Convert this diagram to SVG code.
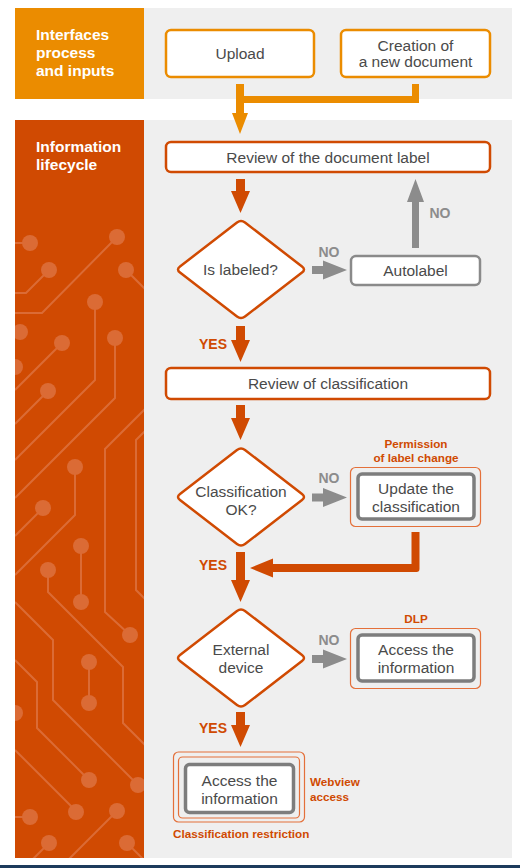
<svg xmlns="http://www.w3.org/2000/svg" width="520" height="868" viewBox="0 0 520 868">
<style>
text{font-family:"Liberation Sans",Arial,sans-serif}
.hd{font-size:15.5px;font-weight:bold;fill:#ffffff}
.tx{font-size:15.5px;fill:#4a4a4a;text-anchor:middle}
.lb{font-size:11.7px;font-weight:bold;fill:#d04a02}
.no{font-size:14px;font-weight:bold;fill:#8c8c8c;text-anchor:middle}
.yes{font-size:14px;font-weight:bold;fill:#d04a02;text-anchor:middle}
.box1{fill:#ffffff;stroke:#eb8c00;stroke-width:2.5}
.box2{fill:#ffffff;stroke:#d04a02;stroke-width:2.5}
.dia{fill:#ffffff;stroke:#d04a02;stroke-width:2.5;stroke-linejoin:round}
.gbox{fill:#ffffff;stroke:#8a8a8a;stroke-width:2.5}
.gbox2{fill:#ffffff;stroke:#7d7d7d;stroke-width:3.5}
.obox{fill:none;stroke:#e4703a;stroke-width:1.2}
.ao{fill:#d04a02}
.ag{fill:#8c8c8c}
.ct{fill:none;stroke:#db6b35;stroke-width:2}
.cd{fill:#db6b35}
</style>
<defs>
<clipPath id="pclip"><rect x="15" y="120" width="129" height="738"/></clipPath>
<path id="dmd" d="M-4,-47 Q0,-50 4,-47 L61,-3 Q65,0 61,3 L4,47 Q0,50 -4,47 L-61,3 Q-65,0 -61,-3 Z"/>
</defs>

<!-- backgrounds -->
<g id="bands">
<rect x="144" y="8" width="368" height="91" fill="#efefef"/>
<rect x="144" y="120" width="368" height="738" fill="#efefef"/>
<rect x="15" y="8" width="129" height="91" fill="#eb8c00"/>
<rect x="15" y="120" width="129" height="738" fill="#d04a02"/>
<rect x="0" y="865" width="520" height="3" fill="#1d3b5c"/>
</g>

<!-- circuit decoration -->
<g id="circuit" clip-path="url(#pclip)">
<polyline class="ct" points="15,243 30,243"/>
<polyline class="ct" points="15,293 26,293 49,270"/>
<polyline class="ct" points="15,313 42,313 117,237"/>
<polyline class="ct" points="126,270 146,290"/>
<polyline class="ct" points="95,302 95,380 15,460"/>
<polyline class="ct" points="115,338 115,398 15,498"/>
<polyline class="ct" points="62,343 15,390"/>
<polyline class="ct" points="48,391 15,424"/>
<polyline class="ct" points="146,408 105,449 105,612 130,635"/>
<polyline class="ct" points="146,430 136,440 136,590 146,600"/>
<polyline class="ct" points="75,467 75,515 15,575"/>
<polyline class="ct" points="43,508 15,536"/>
<polyline class="ct" points="81,546 81,602"/>
<polyline class="ct" points="48,570 48,592 123,667 123,723 146,746"/>
<polyline class="ct" points="15,602 53,640 53,700 138,785"/>
<polyline class="ct" points="89,662 89,703"/>
<polyline class="ct" points="15,660 37,682 37,728 89,780"/>
<polyline class="ct" points="15,750 76,811"/>
<polyline class="ct" points="15,817 30,817"/>
<polyline class="ct" points="117,811 68,860"/>
<polyline class="ct" points="49,843 32,860"/>
<polyline class="ct" points="127,843 144,860"/>
<circle class="cd" cx="30" cy="243" r="8"/>
<circle class="cd" cx="49" cy="270" r="8"/>
<circle class="cd" cx="117" cy="237" r="8"/>
<circle class="cd" cx="126" cy="270" r="8"/>
<circle class="cd" cx="20" cy="332" r="8"/>
<circle class="cd" cx="95" cy="302" r="8"/>
<circle class="cd" cx="115" cy="338" r="8"/>
<circle class="cd" cx="62" cy="343" r="8"/>
<circle class="cd" cx="15" cy="367" r="8"/>
<circle class="cd" cx="48" cy="391" r="8"/>
<circle class="cd" cx="130" cy="635" r="8"/>
<circle class="cd" cx="75" cy="467" r="8"/>
<circle class="cd" cx="43" cy="508" r="8"/>
<circle class="cd" cx="81" cy="546" r="8"/>
<circle class="cd" cx="81" cy="602" r="8"/>
<circle class="cd" cx="48" cy="570" r="8"/>
<circle class="cd" cx="138" cy="785" r="8"/>
<circle class="cd" cx="89" cy="662" r="8"/>
<circle class="cd" cx="89" cy="703" r="8"/>
<circle class="cd" cx="15" cy="713" r="8"/>
<circle class="cd" cx="89" cy="780" r="8"/>
<circle class="cd" cx="76" cy="812" r="8"/>
<circle class="cd" cx="30" cy="817" r="8"/>
<circle class="cd" cx="117" cy="811" r="8"/>
<circle class="cd" cx="49" cy="843" r="8"/>
<circle class="cd" cx="127" cy="843" r="8"/>
</g>

<!-- section headers -->
<g id="hdr-interfaces">
<text class="hd" x="36" y="39.5">Interfaces</text>
<text class="hd" x="36" y="57.5">process</text>
<text class="hd" x="36" y="75.5">and inputs</text>
</g>
<g id="hdr-lifecycle">
<text class="hd" x="36" y="152">Information</text>
<text class="hd" x="36" y="169.5">lifecycle</text>
</g>

<!-- connectors -->
<g id="connectors">
<path fill="#eb8c00" d="M236,84 H244 V96 H412 V84 H419 V103 H244 V113 H248 L240,134 L232,113 H236 Z"/>
<path class="ao" d="M236,179 H245 V191 H250 L240.5,213 L231,191 H236 Z"/>
<path class="ag" d="M312,266 H323 V260.5 L347,270 L323,279.5 V274 H312 Z"/>
<path class="ag" d="M412,248 V202 H407 L415.5,179 L424,202 H419 V248 Z"/>
<path class="ao" d="M236,326 H245 V340 H250 L240.5,362 L231,340 H236 Z"/>
<path class="ao" d="M236,405 H245 V418 H250 L240.5,440 L231,418 H236 Z"/>
<path class="ag" d="M312,493.5 H323 V488 L347,497.5 L323,507 V501.5 H312 Z"/>
<path class="ao" d="M419.5,532 V569 Q419.5,572 416.5,572 H273 V577.5 L250,568 L273,558.5 V564 H411.5 V532 Z"/>
<path class="ao" d="M236,552 H245 V580 H250 L240.5,602 L231,580 H236 Z"/>
<path class="ag" d="M312,655 H323 V649.5 L347,659 L323,668.5 V663 H312 Z"/>
<path class="ao" d="M236,712 H245 V725 H250 L240.5,747 L231,725 H236 Z"/>
<text class="no" x="329" y="257">NO</text>
<text class="no" x="440" y="218">NO</text>
<text class="yes" x="213" y="349">YES</text>
<text class="no" x="329" y="483">NO</text>
<text class="yes" x="213" y="570">YES</text>
<text class="no" x="329" y="645">NO</text>
<text class="yes" x="213" y="733">YES</text>
</g>

<!-- nodes -->
<g id="upload">
<rect class="box1" x="166" y="30" width="148" height="47" rx="5"/>
<text class="tx" x="240" y="59">Upload</text>
</g>
<g id="creation">
<rect class="box1" x="341" y="30" width="149" height="47" rx="5"/>
<text class="tx" x="415.5" y="51">Creation of</text>
<text class="tx" x="415.5" y="67">a new document</text>
</g>
<g id="review-label">
<rect class="box2" x="166" y="142" width="324" height="30" rx="5"/>
<text class="tx" x="328" y="162.5">Review of the document label</text>
</g>
<g id="is-labeled">
<use href="#dmd" class="dia" transform="translate(241,269.5)"/>
<text class="tx" x="240.5" y="275">Is labeled?</text>
</g>
<g id="autolabel">
<rect class="gbox" x="351" y="256" width="129" height="29" rx="5"/>
<text class="tx" x="415.5" y="276">Autolabel</text>
</g>
<g id="review-classification">
<rect class="box2" x="166" y="368" width="324" height="31" rx="5"/>
<text class="tx" x="328" y="389">Review of classification</text>
</g>
<g id="classification-ok">
<use href="#dmd" class="dia" transform="translate(241,497)"/>
<text class="tx" x="241" y="497">Classification</text>
<text class="tx" x="241" y="515">OK?</text>
</g>
<g id="update-classification">
<text class="lb" x="416" y="447.5" text-anchor="middle">Permission</text>
<text class="lb" x="416" y="461.5" text-anchor="middle">of label change</text>
<rect class="obox" x="350.5" y="467.5" width="130" height="59" rx="5"/>
<rect class="gbox2" x="358" y="474" width="116" height="45" rx="4"/>
<text class="tx" x="416" y="494">Update the</text>
<text class="tx" x="416" y="512">classification</text>
</g>
<g id="external-device">
<use href="#dmd" class="dia" transform="translate(241,658)"/>
<text class="tx" x="241" y="655">External</text>
<text class="tx" x="241" y="673">device</text>
</g>
<g id="access-dlp">
<text class="lb" x="416" y="622.5" text-anchor="middle">DLP</text>
<rect class="obox" x="350.5" y="628.5" width="130" height="60" rx="5"/>
<rect class="gbox2" x="358" y="635" width="116" height="46" rx="4"/>
<text class="tx" x="416" y="655">Access the</text>
<text class="tx" x="416" y="673">information</text>
</g>
<g id="access-webview">
<rect class="obox" x="173.5" y="752" width="131" height="70" rx="5"/>
<rect class="obox" x="178.5" y="757" width="121" height="61" rx="4"/>
<rect class="gbox2" x="185.5" y="764.5" width="108" height="48" rx="4"/>
<text class="tx" x="239.5" y="786">Access the</text>
<text class="tx" x="239.5" y="804">information</text>
<text class="lb" x="310" y="786">Webview</text>
<text class="lb" x="310" y="801">access</text>
<text class="lb" x="173" y="838">Classification restriction</text>
</g>
</svg>
